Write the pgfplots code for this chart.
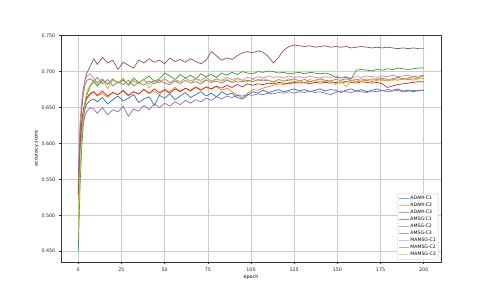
\documentclass[border=0pt]{standalone}
\usepackage{fontspec}
\setmainfont{DejaVu Sans}
\usepackage{pgfplots}
\pgfplotsset{compat=1.18}
\usepackage{pgfplotstable}
\definecolor{c1}{HTML}{1F77B4}
\definecolor{c2}{HTML}{FF7F0E}
\definecolor{c3}{HTML}{2CA02C}
\definecolor{c4}{HTML}{D62728}
\definecolor{c5}{HTML}{9467BD}
\definecolor{c6}{HTML}{8C564B}
\definecolor{c7}{HTML}{E377C2}
\definecolor{c8}{HTML}{7F7F7F}
\definecolor{c9}{HTML}{BCBD22}
\pgfplotstableread{
ep a1 a2 a3 m1 m2 m3 g1 g2 g3
0 0.540 0.520 0.450 0.530 0.530 0.530 0.565 0.545 0.475
1 0.600 0.595 0.540 0.600 0.590 0.610 0.630 0.615 0.560
2 0.625 0.625 0.595 0.630 0.615 0.650 0.660 0.650 0.610
3 0.640 0.645 0.630 0.648 0.630 0.675 0.678 0.670 0.640
4 0.650 0.655 0.655 0.658 0.640 0.690 0.688 0.682 0.660
5 0.655 0.662 0.668 0.664 0.645 0.698 0.694 0.688 0.672
7 0.660 0.668 0.680 0.670 0.650 0.708 0.697 0.690 0.682
9 0.662 0.672 0.686 0.672 0.648 0.718 0.690 0.686 0.688
11 0.658 0.666 0.680 0.667 0.642 0.710 0.685 0.692 0.683
14 0.664 0.670 0.688 0.673 0.650 0.720 0.690 0.683 0.690
17 0.655 0.664 0.683 0.666 0.640 0.712 0.682 0.689 0.676
20 0.661 0.671 0.690 0.671 0.647 0.716 0.688 0.680 0.689
23 0.666 0.668 0.684 0.668 0.644 0.703 0.684 0.686 0.684
26 0.659 0.673 0.688 0.674 0.652 0.713 0.690 0.682 0.691
29 0.663 0.666 0.682 0.667 0.638 0.709 0.681 0.688 0.680
32 0.668 0.672 0.691 0.672 0.648 0.705 0.687 0.680 0.688
35 0.657 0.669 0.685 0.669 0.645 0.716 0.684 0.685 0.683
38 0.662 0.675 0.689 0.675 0.653 0.712 0.689 0.681 0.690
41 0.665 0.670 0.694 0.670 0.647 0.718 0.683 0.687 0.677
44 0.653 0.673 0.686 0.676 0.655 0.713 0.688 0.683 0.687
47 0.667 0.668 0.690 0.671 0.650 0.716 0.685 0.688 0.684
50 0.663 0.676 0.698 0.674 0.656 0.711 0.690 0.684 0.690
53 0.669 0.672 0.694 0.670 0.652 0.719 0.684 0.682 0.685
56 0.661 0.678 0.689 0.676 0.658 0.714 0.689 0.687 0.689
59 0.666 0.673 0.696 0.672 0.654 0.717 0.686 0.683 0.683
62 0.671 0.677 0.691 0.677 0.660 0.713 0.691 0.688 0.688
65 0.664 0.674 0.695 0.673 0.656 0.718 0.687 0.684 0.684
68 0.668 0.679 0.690 0.678 0.661 0.714 0.690 0.686 0.690
71 0.672 0.675 0.697 0.674 0.658 0.711 0.688 0.683 0.686
74 0.666 0.678 0.693 0.679 0.663 0.716 0.692 0.688 0.689
77 0.670 0.676 0.696 0.676 0.660 0.728 0.687 0.685 0.685
80 0.665 0.679 0.692 0.680 0.665 0.722 0.690 0.687 0.690
83 0.672 0.674 0.698 0.677 0.662 0.716 0.688 0.684 0.687
86 0.668 0.677 0.695 0.681 0.666 0.719 0.692 0.688 0.689
89 0.670 0.672 0.699 0.678 0.664 0.717 0.689 0.685 0.686
92 0.664 0.668 0.696 0.682 0.667 0.722 0.691 0.687 0.690
95 0.662 0.663 0.700 0.679 0.666 0.726 0.688 0.686 0.688
98 0.667 0.670 0.698 0.683 0.668 0.728 0.692 0.688 0.686
101 0.672 0.675 0.697 0.681 0.667 0.726 0.690 0.686 0.689
104 0.670 0.674 0.700 0.683 0.669 0.729 0.693 0.689 0.687
107 0.674 0.677 0.699 0.682 0.668 0.727 0.691 0.687 0.690
110 0.671 0.679 0.701 0.684 0.670 0.721 0.694 0.688 0.688
113 0.673 0.681 0.700 0.683 0.669 0.712 0.692 0.686 0.685
116 0.675 0.683 0.698 0.685 0.671 0.720 0.693 0.689 0.689
119 0.672 0.682 0.699 0.684 0.670 0.730 0.691 0.687 0.687
122 0.674 0.685 0.697 0.683 0.672 0.735 0.694 0.688 0.690
125 0.676 0.684 0.698 0.685 0.670 0.737 0.692 0.690 0.686
128 0.673 0.686 0.699 0.684 0.672 0.736 0.693 0.687 0.688
131 0.675 0.684 0.697 0.685 0.671 0.735 0.691 0.689 0.684
134 0.672 0.686 0.699 0.683 0.673 0.736 0.694 0.686 0.689
137 0.674 0.685 0.698 0.685 0.671 0.734 0.692 0.688 0.687
140 0.676 0.687 0.697 0.684 0.672 0.735 0.691 0.690 0.690
143 0.673 0.685 0.698 0.685 0.670 0.736 0.693 0.688 0.686
146 0.675 0.686 0.696 0.684 0.668 0.734 0.692 0.687 0.688
149 0.674 0.684 0.692 0.685 0.671 0.735 0.694 0.689 0.682
152 0.671 0.687 0.691 0.684 0.673 0.734 0.692 0.688 0.688
155 0.674 0.686 0.692 0.686 0.672 0.735 0.693 0.690 0.679
158 0.676 0.688 0.690 0.685 0.671 0.733 0.691 0.688 0.687
161 0.673 0.686 0.702 0.684 0.673 0.734 0.693 0.689 0.689
164 0.675 0.687 0.703 0.686 0.672 0.735 0.692 0.690 0.686
167 0.672 0.688 0.702 0.685 0.671 0.734 0.694 0.688 0.690
170 0.674 0.686 0.701 0.684 0.673 0.733 0.693 0.690 0.688
173 0.676 0.688 0.703 0.685 0.672 0.734 0.692 0.689 0.690
176 0.673 0.689 0.702 0.683 0.674 0.733 0.694 0.691 0.687
179 0.675 0.687 0.704 0.678 0.672 0.734 0.693 0.689 0.689
182 0.674 0.689 0.703 0.680 0.673 0.733 0.695 0.690 0.688
185 0.676 0.688 0.705 0.682 0.674 0.732 0.693 0.692 0.690
188 0.673 0.690 0.704 0.683 0.672 0.733 0.694 0.690 0.689
191 0.674 0.689 0.703 0.684 0.673 0.732 0.695 0.691 0.691
194 0.672 0.690 0.704 0.685 0.674 0.733 0.693 0.693 0.688
197 0.674 0.691 0.705 0.686 0.673 0.732 0.694 0.692 0.690
200 0.674 0.690 0.705 0.686 0.674 0.732 0.695 0.694 0.691
}\datatable
\begin{document}
\begin{tikzpicture}[x=1pt,y=1pt]
\path[use as bounding box] (0,0) rectangle (490,294);
\begin{axis}[
  at={(61pt,32pt)}, anchor=south west,
  scale only axis, width=380pt, height=227pt,
  xmin=-10, xmax=210, ymin=0.435, ymax=0.751,
  xtick={0,25,...,200},
  ytick={0.45,0.5,0.55,0.6,0.65,0.7,0.75},
  yticklabel style={/pgf/number format/.cd, fixed, fixed zerofill, precision=3},
  /pgf/number format/assume math mode=true,
  tick label style={font=\fontsize{4.8}{5.5}\selectfont, text=black!85},
  label style={font=\fontsize{4.8}{5.5}\selectfont},
  xlabel={epoch}, ylabel={accuracy score},
  xlabel style={yshift=3pt},
  ylabel style={yshift=-4pt},
  tick align=outside, xtick pos=bottom, ytick pos=left,
  major tick length=2.2pt,
  every tick/.style={black!80, line width=0.5pt},
  axis line style={black!80, line width=0.55pt},
  grid=major,
  major grid style={line width=0.5pt, color=black!20},
  every axis plot/.append style={line width=0.7pt},
  legend cell align=left,
  legend style={at={(0.993,0.01)}, anchor=south east,
    font=\fontsize{4.6}{5}\selectfont, draw=black!20, rounded corners=1pt,
    fill=white, inner sep=1.4pt, row sep=0.3pt,
    nodes={inner sep=0.9pt}},
  legend image code/.code={\draw[#1, line width=0.9pt, opacity=0.6] (0pt,0pt) -- (10pt,0pt);},
]
\addplot[c1] table[x=ep,y=a1]{\datatable};
\addlegendentry{ADAM-C1}
\addplot[c2] table[x=ep,y=a2]{\datatable};
\addlegendentry{ADAM-C2}
\addplot[c3] table[x=ep,y=a3]{\datatable};
\addlegendentry{ADAM-C3}
\addplot[c4] table[x=ep,y=m1]{\datatable};
\addlegendentry{AMSG-C1}
\addplot[c5] table[x=ep,y=m2]{\datatable};
\addlegendentry{AMSG-C2}
\addplot[c6] table[x=ep,y=m3]{\datatable};
\addlegendentry{AMSG-C3}
\addplot[c7] table[x=ep,y=g1]{\datatable};
\addlegendentry{MAMSG-C1}
\addplot[c8] table[x=ep,y=g2]{\datatable};
\addlegendentry{MAMSG-C2}
\addplot[c9] table[x=ep,y=g3]{\datatable};
\addlegendentry{MAMSG-C3}
\end{axis}
\end{tikzpicture}
\end{document}
